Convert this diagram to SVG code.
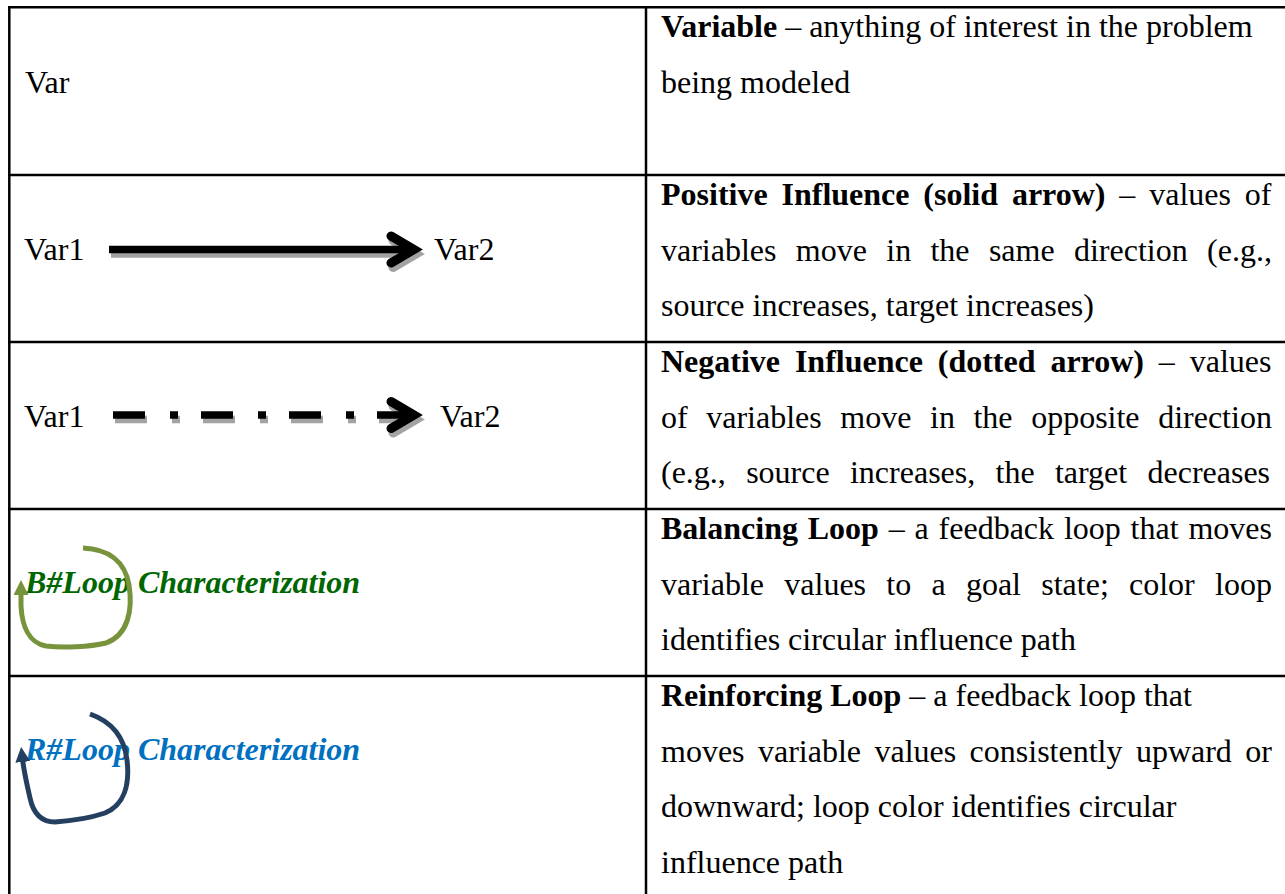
<svg xmlns="http://www.w3.org/2000/svg" width="1285" height="894" viewBox="0 0 1285 894">
  <style>
    text { font-family: "Liberation Serif", "Times New Roman", serif; font-size: 32px; fill: #000; }
    .b { font-weight: bold; }
    .grid { stroke: #000; stroke-width: 2.5; fill: none; }
    .shaft { stroke: #000; stroke-width: 7.5; fill: none; }
    .shaft-sh { stroke: #a3a3a3; stroke-width: 7.5; fill: none; }
    .head { stroke: #000; stroke-width: 9; fill: none; stroke-linecap: round; stroke-linejoin: miter; }
    .head-sh { stroke: #a3a3a3; stroke-width: 9; fill: none; stroke-linecap: round; stroke-linejoin: miter; }
    .dash { stroke-dasharray: 32 25 8 23; }
    .loop-b { stroke: #77933c; stroke-width: 5; fill: none; }
    .loop-r { stroke: #243f60; stroke-width: 5; fill: none; }
    .lbl-b { font-weight: bold; font-style: italic; fill: #006600; }
    .lbl-r { font-weight: bold; font-style: italic; fill: #0070c0; }
  </style>
  <defs>
    <marker id="tipB" viewBox="0 0 10 10" refX="2" refY="5" markerWidth="3" markerHeight="3" orient="auto" markerUnits="strokeWidth">
      <path d="M0,0 L10,5 L0,10 Z" fill="#77933c"/>
    </marker>
    <marker id="tipR" viewBox="0 0 10 10" refX="2" refY="5" markerWidth="3" markerHeight="3" orient="auto" markerUnits="strokeWidth">
      <path d="M0,0 L10,5 L0,10 Z" fill="#243f60"/>
    </marker>
    <polyline id="chev" points="-23,-13.5 0,0 -23,13.5"/>
  </defs>

  <rect width="1285" height="894" fill="#fff"/>

  <!-- table grid -->
  <g id="grid" class="grid">
    <line x1="9.3" y1="6" x2="9.3" y2="894"/>
    <line x1="646" y1="6" x2="646" y2="894"/>
    <line x1="8" y1="7.3" x2="1285" y2="7.3"/>
    <line x1="8" y1="175" x2="1285" y2="175"/>
    <line x1="8" y1="342" x2="1285" y2="342"/>
    <line x1="8" y1="509" x2="1285" y2="509"/>
    <line x1="8" y1="676" x2="1285" y2="676"/>
  </g>

  <!-- left column symbols -->
  <g id="var">
    <text x="25" y="93">Var</text>
  </g>
  <g id="pos-var1"><text x="24" y="260">Var1</text></g>
  <g id="pos-var2"><text x="434" y="260">Var2</text></g>
  <g id="neg-var1"><text x="24" y="427">Var1</text></g>
  <g id="neg-var2"><text x="440" y="427">Var2</text></g>
  <g id="loop-b-label"><text class="lbl-b" x="25" y="593">B#Loop Characterization</text></g>
  <g id="loop-r-label"><text class="lbl-r" x="25" y="760">R#Loop Characterization</text></g>

  <!-- connectors -->
  <g id="connectors">
    <!-- positive influence: solid arrow with drop shadow -->
    <g id="arrow-solid">
      <line class="shaft-sh" x1="111" y1="254" x2="416" y2="254"/>
      <use href="#chev" class="head-sh" transform="translate(416,254)"/>
      <line class="shaft" x1="109" y1="249.5" x2="414" y2="249.5"/>
      <use href="#chev" class="head" transform="translate(414,249.5)"/>
    </g>
    <!-- negative influence: dash-dot arrow with drop shadow -->
    <g id="arrow-dotted">
      <line class="shaft-sh dash" x1="115" y1="419.5" x2="418" y2="419.5"/>
      <use href="#chev" class="head-sh" transform="translate(416,419.5)"/>
      <line class="shaft dash" x1="113" y1="415" x2="416" y2="415"/>
      <use href="#chev" class="head" transform="translate(414,415)"/>
    </g>
    <!-- balancing loop -->
    <path id="loop-b" class="loop-b" marker-end="url(#tipB)"
          d="M83,548 C108,549 125,561 129,585 C133,610 128,635 106,643 C90,647 62,648 46,646 C29,643 22,626 21,606 L21,592"/>
    <!-- reinforcing loop -->
    <path id="loop-r" class="loop-r" marker-end="url(#tipR)"
          d="M90,714 C110,721 124,735 127,760 C130,785 124,805 105,813 C90,818 70,821 55,822 C40,822 33,812 30,798 C27,785 24,772 22.5,759"/>
  </g>

  <!-- right column descriptions -->
  <g id="desc-variable">
    <text x="661" y="37"><tspan class="b">Variable</tspan> – anything of interest in the problem</text>
    <text x="661" y="92.5">being modeled</text>
  </g>
  <g id="desc-positive">
    <text x="661" y="205" word-spacing="5.85"><tspan class="b">Positive Influence (solid arrow)</tspan> – values of</text>
    <text x="661" y="260.5" word-spacing="11.33">variables move in the same direction (e.g.,</text>
    <text x="661" y="316">source increases, target increases)</text>
  </g>
  <g id="desc-negative">
    <text x="661" y="372" word-spacing="6.85"><tspan class="b">Negative Influence (dotted arrow)</tspan> – values</text>
    <text x="661" y="427.5" word-spacing="10.58">of variables move in the opposite direction</text>
    <text x="661" y="483" word-spacing="12.3">(e.g., source increases, the target decreases</text>
  </g>
  <g id="desc-balancing">
    <text x="661" y="539" word-spacing="1.83"><tspan class="b">Balancing Loop</tspan> – a feedback loop that moves</text>
    <text x="661" y="594.5" word-spacing="12.25">variable values to a goal state; color loop</text>
    <text x="661" y="650">identifies circular influence path</text>
  </g>
  <g id="desc-reinforcing">
    <text x="661" y="706"><tspan class="b">Reinforcing Loop</tspan> – a feedback loop that</text>
    <text x="661" y="761.5" word-spacing="5.42">moves variable values consistently upward or</text>
    <text x="661" y="817">downward; loop color identifies circular</text>
    <text x="661" y="872.5">influence path</text>
  </g>
</svg>
